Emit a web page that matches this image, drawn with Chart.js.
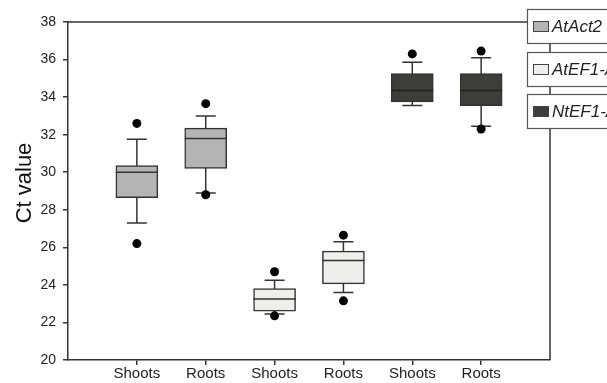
<!DOCTYPE html>
<html>
<head>
<meta charset="utf-8">
<script src="https://cdn.jsdelivr.net/npm/chart.js@4/dist/chart.umd.min.js"></script>
<style>
  body { margin: 0; background: #fff; }
  canvas { display: block; }
</style>
</head>
<body>
<canvas id="chart" width="607" height="383"></canvas>
<script>
// tissue per box, left to right
const categories = ["Shoots", "Roots", "Shoots", "Roots", "Shoots", "Roots"];
const genes = ["AtAct2", "AtEF1-A", "NtEF1-A"];
const geneOf = [0, 0, 1, 1, 2, 2];
const geneColors = ["#b4b4b4", "#eeeeea", "#3d3d39"];

// box plot statistics (Ct value)
const whiskerLow = [27.3, 28.9, 22.45, 23.6, 33.55, 32.45];
const q1 = [28.65, 30.2, 22.6, 24.05, 33.75, 33.55];
const median = [30.0, 31.8, 23.25, 25.3, 34.35, 34.35];
const q3 = [30.35, 32.35, 23.8, 25.8, 35.25, 35.25];
const whiskerHigh = [31.75, 33.0, 24.25, 26.3, 35.85, 36.1];
const outlierLow = [26.2, 28.8, 22.35, 23.15, null, 32.3];
const outlierHigh = [32.6, 33.65, 24.7, 26.65, 36.3, 36.45];

const yTicks = [20, 22, 24, 26, 28, 30, 32, 34, 36, 38];

const boxDatasets = genes.map((g, gi) => ({
  type: "bar",
  label: g,
  data: categories
    .map((c, i) => ({ x: i + 1, y: [q1[i], q3[i]] }))
    .filter((d, i) => geneOf[i] === gi),
  backgroundColor: geneColors[gi],
  borderColor: "#333",
  borderWidth: 1.5,
  borderSkipped: false,
  barThickness: 42,
  grouped: false,
  order: 2,
}));

const outlierPoints = [];
categories.forEach((c, i) => {
  if (outlierLow[i] != null) outlierPoints.push({ x: i + 1, y: outlierLow[i] });
  if (outlierHigh[i] != null) outlierPoints.push({ x: i + 1, y: outlierHigh[i] });
});

const boxPlotLines = {
  id: "boxPlotLines",
  beforeDatasetsDraw(chart) {
    const { ctx, scales: { x, y } } = chart;
    ctx.save();
    ctx.strokeStyle = "#333";
    ctx.lineWidth = 1.5;
    categories.forEach((c, i) => {
      const px = x.getPixelForValue(i + 1);
      ctx.beginPath();
      ctx.moveTo(px, y.getPixelForValue(whiskerLow[i]));
      ctx.lineTo(px, y.getPixelForValue(whiskerHigh[i]));
      [whiskerLow[i], whiskerHigh[i]].forEach((v) => {
        const py = y.getPixelForValue(v);
        ctx.moveTo(px - 10, py);
        ctx.lineTo(px + 10, py);
      });
      ctx.stroke();
    });
    ctx.restore();
  },
  afterDatasetsDraw(chart) {
    const { ctx, scales: { x, y } } = chart;
    ctx.save();
    ctx.lineWidth = 1.5;
    categories.forEach((c, i) => {
      const px = x.getPixelForValue(i + 1);
      const py = y.getPixelForValue(median[i]);
      ctx.strokeStyle = geneOf[i] === 2 ? "#222" : "#333";
      ctx.beginPath();
      ctx.moveTo(px - 21, py);
      ctx.lineTo(px + 21, py);
      ctx.stroke();
    });
    ctx.restore();
  },
};

const frameAndLegend = {
  id: "frameAndLegend",
  afterDraw(chart) {
    const { ctx, chartArea: a } = chart;
    ctx.save();
    // top and right frame lines
    ctx.strokeStyle = "#333";
    ctx.lineWidth = 1.5;
    ctx.beginPath();
    ctx.moveTo(a.left, a.top);
    ctx.lineTo(a.right, a.top);
    ctx.lineTo(a.right, a.bottom);
    ctx.stroke();

    // legend: one framed box per gene
    const boxTops = [9, 52, 94];
    genes.forEach((g, gi) => {
      const top = boxTops[gi];
      ctx.fillStyle = "#fff";
      ctx.fillRect(527, top, 90, 34);
      ctx.strokeStyle = "#555";
      ctx.lineWidth = 1.2;
      ctx.strokeRect(527.5, top + 0.5, 90, 34);
      ctx.fillStyle = geneColors[gi];
      ctx.fillRect(533, top + 12, 15, 10);
      ctx.strokeStyle = "#444";
      ctx.lineWidth = 1;
      ctx.strokeRect(533.5, top + 12.5, 15, 10);
      ctx.fillStyle = "#222";
      ctx.font = "italic 17px 'Liberation Sans', Arial, sans-serif";
      ctx.textBaseline = "middle";
      ctx.textAlign = "left";
      ctx.fillText(g, 552, top + 18);
    });

    // y axis title
    ctx.translate(25, 183);
    ctx.rotate(-Math.PI / 2);
    ctx.fillStyle = "#111";
    ctx.font = "22px 'Liberation Sans', Arial, sans-serif";
    ctx.textAlign = "center";
    ctx.textBaseline = "middle";
    ctx.fillText("Ct value", 0, 0);
    ctx.restore();
  },
};

new Chart(document.getElementById("chart"), {
  type: "bar",
  data: {
    datasets: [
      ...boxDatasets,
      {
        type: "scatter",
        label: "outliers",
        data: outlierPoints,
        pointStyle: "circle",
        pointRadius: 4.5,
        backgroundColor: "#000",
        borderColor: "#000",
        borderWidth: 0,
        order: 1,
      },
    ],
  },
  options: {
    responsive: false,
    animation: false,
    devicePixelRatio: 1,
    layout: { padding: { top: 22, right: 57, left: 0, bottom: 0 } },
    plugins: {
      legend: { display: false },
      tooltip: { enabled: false },
    },
    scales: {
      x: {
        type: "linear",
        min: 0,
        max: 7,
        offset: false,
        afterBuildTicks: (scale) => {
          scale.ticks = categories.map((c, i) => ({ value: i + 1 }));
        },
        afterFit: (scale) => {
          scale.height = 23;
        },
        ticks: {
          callback: (v) => categories[v - 1] || "",
          color: "#222",
          font: { family: "'Liberation Sans', Arial, sans-serif", size: 15 },
          padding: 0,
          maxRotation: 0,
          autoSkip: false,
        },
        grid: { offset: false, drawOnChartArea: false, tickLength: 5, color: "#333", lineWidth: 1.5 },
        border: { color: "#333", width: 1.5 },
      },
      y: {
        min: 20,
        max: 38,
        afterBuildTicks: (scale) => {
          scale.ticks = yTicks.map((v) => ({ value: v }));
        },
        afterFit: (scale) => {
          scale.width = 68;
        },
        ticks: {
          color: "#222",
          font: { family: "'Liberation Sans', Arial, sans-serif", size: 14 },
          padding: 7,
        },
        grid: { drawOnChartArea: false, tickLength: 5, color: "#333", lineWidth: 1.5 },
        border: { color: "#333", width: 1.5 },
      },
    },
  },
  plugins: [boxPlotLines, frameAndLegend],
});
</script>
</body>
</html>
